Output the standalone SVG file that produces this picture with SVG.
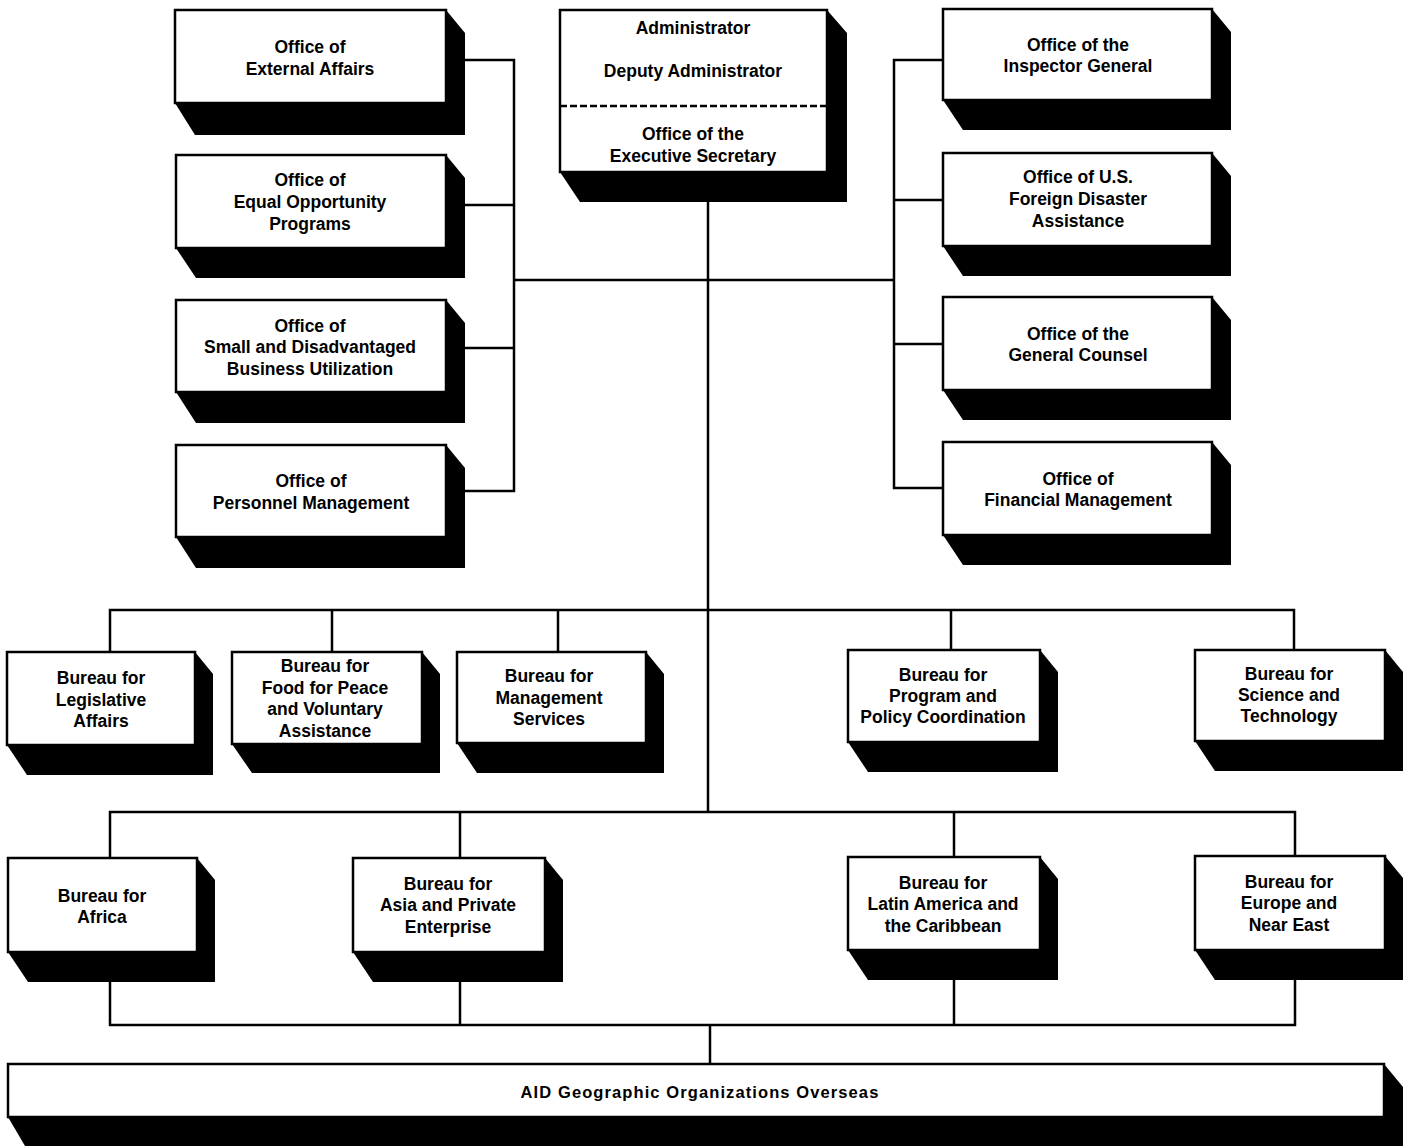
<svg xmlns="http://www.w3.org/2000/svg" width="1405" height="1146" viewBox="0 0 1405 1146">
<style>
.f{fill:#fff;stroke:#000;stroke-width:2.5}
.s{fill:#000}
.t{font-family:"Liberation Sans",Arial,Helvetica,sans-serif;font-weight:bold;font-size:17.5px;text-anchor:middle;fill:#000}
.c{fill:none;stroke:#000;stroke-width:2.5}
.big{font-size:16.5px;letter-spacing:1.1px}
</style>
<rect width="1405" height="1146" fill="#fff"/>
<g id="connectors" class="c">
<polyline points="446,60 514,60 514,491 446,491"/>
<line x1="446" y1="205" x2="514" y2="205"/>
<line x1="446" y1="348" x2="514" y2="348"/>
<polyline points="943,60 894,60 894,488 943,488"/>
<line x1="894" y1="200" x2="943" y2="200"/>
<line x1="894" y1="344" x2="943" y2="344"/>
<line x1="514" y1="280" x2="894" y2="280"/>
<line x1="708" y1="202" x2="708" y2="812"/>
<polyline points="110,652 110,610 1294,610 1294,650"/>
<line x1="332" y1="610" x2="332" y2="652"/>
<line x1="558" y1="610" x2="558" y2="652"/>
<line x1="951" y1="610" x2="951" y2="650"/>
<polyline points="110,858 110,812 1295,812 1295,856"/>
<line x1="460" y1="812" x2="460" y2="858"/>
<line x1="954" y1="812" x2="954" y2="857"/>
<polyline points="110,982 110,1025 1295,1025 1295,980"/>
<line x1="460" y1="982" x2="460" y2="1025"/>
<line x1="954" y1="980" x2="954" y2="1025"/>
<line x1="710" y1="1025" x2="710" y2="1064"/>
</g>
<g id="n-external">
<polygon class="s" points="446,10 465,33 465,135 195,135 175,103"/>
<rect class="f" x="175" y="10" width="271" height="93"/>
<text class="t" x="310" y="53">Office of</text>
<text class="t" x="310" y="75">External Affairs</text>
</g>
<g id="n-equal">
<polygon class="s" points="446,155 465,178 465,278 196,278 176,248"/>
<rect class="f" x="176" y="155" width="270" height="93"/>
<text class="t" x="310" y="186">Office of</text>
<text class="t" x="310" y="208">Equal Opportunity</text>
<text class="t" x="310" y="230">Programs</text>
</g>
<g id="n-small">
<polygon class="s" points="446,300 465,323 465,423 196,423 176,392"/>
<rect class="f" x="176" y="300" width="270" height="92"/>
<text class="t" x="310" y="332">Office of</text>
<text class="t" x="310" y="353">Small and Disadvantaged</text>
<text class="t" x="310" y="375">Business Utilization</text>
</g>
<g id="n-personnel">
<polygon class="s" points="446,445 465,468 465,568 196,568 176,537"/>
<rect class="f" x="176" y="445" width="270" height="92"/>
<text class="t" x="311" y="487">Office of</text>
<text class="t" x="311" y="509">Personnel Management</text>
</g>
<g id="n-admin">
<polygon class="s" points="827,10 847,33 847,202 580,202 560,172"/>
<rect class="f" x="560" y="10" width="267" height="162"/>
<line x1="560" y1="106" x2="827" y2="106" stroke="#000" stroke-width="2.5" stroke-dasharray="7,3"/>
<text class="t" x="693" y="34">Administrator</text>
<text class="t" x="693" y="77">Deputy Administrator</text>
<text class="t" x="693" y="140">Office of the</text>
<text class="t" x="693" y="162">Executive Secretary</text>
</g>
<g id="n-ig">
<polygon class="s" points="1212,9 1231,32 1231,130 963,130 943,100"/>
<rect class="f" x="943" y="9" width="269" height="91"/>
<text class="t" x="1078" y="51">Office of the</text>
<text class="t" x="1078" y="72">Inspector General</text>
</g>
<g id="n-disaster">
<polygon class="s" points="1212,153 1231,176 1231,276 963,276 943,246"/>
<rect class="f" x="943" y="153" width="269" height="93"/>
<text class="t" x="1078" y="183">Office of U.S.</text>
<text class="t" x="1078" y="205">Foreign Disaster</text>
<text class="t" x="1078" y="227">Assistance</text>
</g>
<g id="n-counsel">
<polygon class="s" points="1212,297 1231,320 1231,420 963,420 943,390"/>
<rect class="f" x="943" y="297" width="269" height="93"/>
<text class="t" x="1078" y="340">Office of the</text>
<text class="t" x="1078" y="361">General Counsel</text>
</g>
<g id="n-financial">
<polygon class="s" points="1212,442 1231,465 1231,565 963,565 943,535"/>
<rect class="f" x="943" y="442" width="269" height="93"/>
<text class="t" x="1078" y="485">Office of</text>
<text class="t" x="1078" y="506">Financial Management</text>
</g>
<g id="n-legislative">
<polygon class="s" points="195,652 213,674 213,775 27,775 7,745"/>
<rect class="f" x="7" y="652" width="188" height="93"/>
<text class="t" x="101" y="684">Bureau for</text>
<text class="t" x="101" y="706">Legislative</text>
<text class="t" x="101" y="727">Affairs</text>
</g>
<g id="n-food">
<polygon class="s" points="422,652 440,674 440,773 252,773 232,744"/>
<rect class="f" x="232" y="652" width="190" height="92"/>
<text class="t" x="325" y="672">Bureau for</text>
<text class="t" x="325" y="694">Food for Peace</text>
<text class="t" x="325" y="715">and Voluntary</text>
<text class="t" x="325" y="737">Assistance</text>
</g>
<g id="n-management">
<polygon class="s" points="646,652 664,674 664,773 477,773 457,743"/>
<rect class="f" x="457" y="652" width="189" height="91"/>
<text class="t" x="549" y="682">Bureau for</text>
<text class="t" x="549" y="704">Management</text>
<text class="t" x="549" y="725">Services</text>
</g>
<g id="n-program">
<polygon class="s" points="1040,650 1058,672 1058,772 868,772 848,742"/>
<rect class="f" x="848" y="650" width="192" height="92"/>
<text class="t" x="943" y="681">Bureau for</text>
<text class="t" x="943" y="702">Program and</text>
<text class="t" x="943" y="723">Policy Coordination</text>
</g>
<g id="n-science">
<polygon class="s" points="1385,650 1403,672 1403,771 1215,771 1195,741"/>
<rect class="f" x="1195" y="650" width="190" height="91"/>
<text class="t" x="1289" y="680">Bureau for</text>
<text class="t" x="1289" y="701">Science and</text>
<text class="t" x="1289" y="722">Technology</text>
</g>
<g id="n-africa">
<polygon class="s" points="197,858 215,880 215,982 28,982 8,952"/>
<rect class="f" x="8" y="858" width="189" height="94"/>
<text class="t" x="102" y="902">Bureau for</text>
<text class="t" x="102" y="923">Africa</text>
</g>
<g id="n-asia">
<polygon class="s" points="545,858 563,880 563,982 373,982 353,952"/>
<rect class="f" x="353" y="858" width="192" height="94"/>
<text class="t" x="448" y="890">Bureau for</text>
<text class="t" x="448" y="911">Asia and Private</text>
<text class="t" x="448" y="933">Enterprise</text>
</g>
<g id="n-latin">
<polygon class="s" points="1040,857 1058,879 1058,980 868,980 848,950"/>
<rect class="f" x="848" y="857" width="192" height="93"/>
<text class="t" x="943" y="889">Bureau for</text>
<text class="t" x="943" y="910">Latin America and</text>
<text class="t" x="943" y="932">the Caribbean</text>
</g>
<g id="n-europe">
<polygon class="s" points="1385,856 1403,878 1403,980 1215,980 1195,950"/>
<rect class="f" x="1195" y="856" width="190" height="94"/>
<text class="t" x="1289" y="888">Bureau for</text>
<text class="t" x="1289" y="909">Europe and</text>
<text class="t" x="1289" y="931">Near East</text>
</g>
<g id="n-overseas">
<polygon class="s" points="1384,1064 1403,1087 1403,1146 25,1146 8,1117"/>
<rect class="f" x="8" y="1064" width="1376" height="53"/>
<text class="t big" x="700" y="1098">AID Geographic Organizations Overseas</text>
</g>
</svg>
